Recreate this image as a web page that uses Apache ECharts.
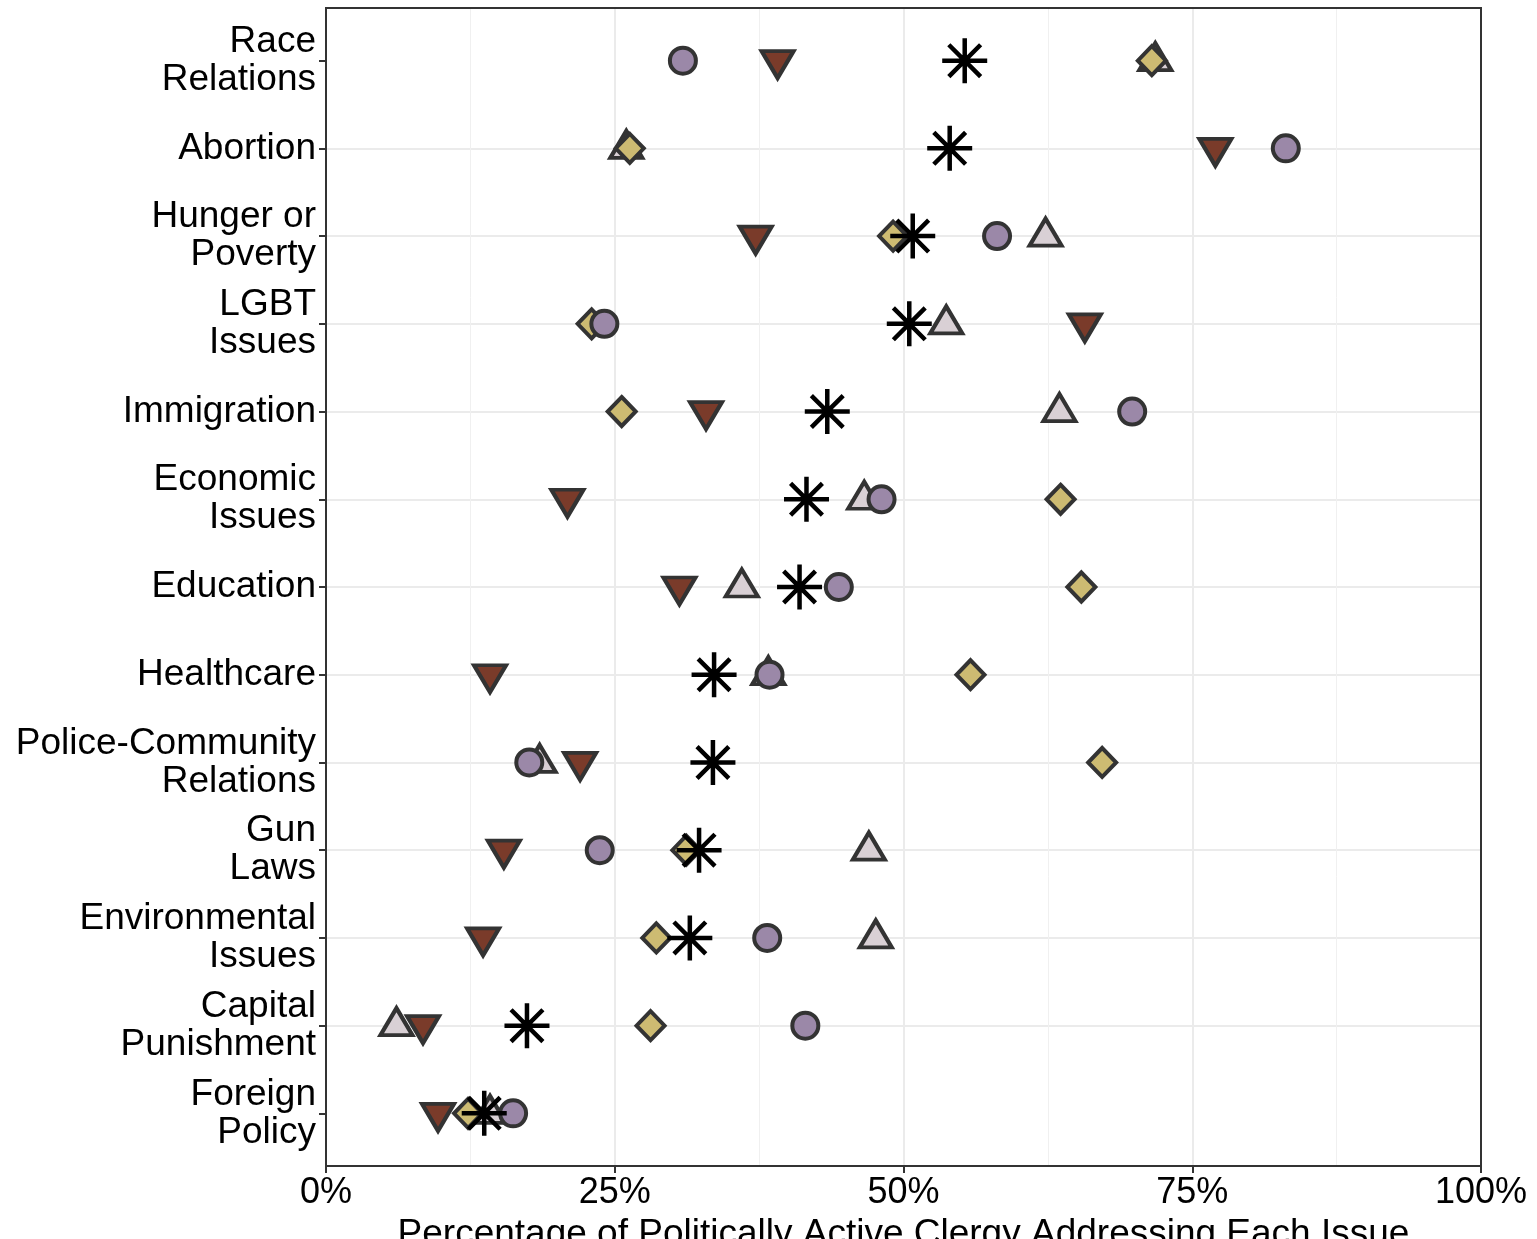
<!DOCTYPE html>
<html>
<head>
<meta charset="utf-8">
<title>Issues addressed by politically active clergy</title>
<script src="https://cdn.jsdelivr.net/npm/echarts@6/dist/echarts.min.js"></script>
<style>
    html, body { margin: 0; padding: 0; background: #fff; }
    #main { width: 1537px; height: 1239px; }
</style>
</head>
<body>
<div id="main"></div>
<script>
// issues, top to bottom
var issues = ['Race\nRelations', 'Abortion', 'Hunger or\nPoverty', 'LGBT\nIssues', 'Immigration',
    'Economic\nIssues', 'Education', 'Healthcare', 'Police-Community\nRelations', 'Gun\nLaws',
    'Environmental\nIssues', 'Capital\nPunishment', 'Foreign\nPolicy'];

// percent of clergy, one array per marker group (same order as issues)
var circleVals   = [30.9, 83.1, 58.1, 24.1, 69.8, 48.1, 44.4, 38.4, 17.6, 23.7, 38.2, 41.5, 16.2];
var downTriVals  = [39.1, 77.0, 37.2, 65.7, 32.9, 20.9, 30.6, 14.2, 22.0, 15.4, 13.6, 8.4, 9.7];
var overallVals  = [55.3, 54.0, 50.8, 50.5, 43.4, 41.6, 41.0, 33.6, 33.5, 32.3, 31.5, 17.4, 13.7];
var upTriVals    = [71.8, 26.0, 62.3, 53.7, 63.5, 46.6, 36.0, 38.3, 18.5, 47.0, 47.6, 6.1, 14.2];
var diamondVals  = [71.5, 26.3, 49.1, 23.0, 25.6, 63.6, 65.4, 55.8, 67.2, 31.2, 28.6, 28.1, 12.3];

var xTicks = [0, 25, 50, 75, 100];
var xTitle = 'Percentage of Politically Active Clergy Addressing Each Issue';

var FONT = '"Liberation Sans", Arial, Helvetica, sans-serif';
var rowIdx = issues.map(function (d, i) { return i + 1; });

function pairs(vals) {
    return vals.map(function (v, i) { return [v, i + 1]; });
}

var asterisk = 'path://M0,-1L0,1M-1,0L1,0M-0.707,-0.707L0.707,0.707M-0.707,0.707L0.707,-0.707';

// plot box
var L = 326, R = 1481, T = 8, B = 1166;

var myChart = echarts.init(document.getElementById('main'));
var option = {
    backgroundColor: '#fff',
    animation: false,
    grid: {
        left: L, right: 1537 - R, top: T, bottom: 1239 - B,
        outerBoundsMode: 'none',
        containLabel: false,
        show: false
    },
    graphic: [{
        type: 'rect', z: 100, silent: true,
        shape: { x: L, y: T, width: R - L, height: B - T },
        style: { fill: null, stroke: '#333', lineWidth: 2 }
    }],
    xAxis: {
        type: 'value',
        min: 0, max: 100, interval: 25,
        name: xTitle,
        nameLocation: 'middle',
        nameGap: 47,
        nameTextStyle: { fontFamily: FONT, fontSize: 37, color: '#000', verticalAlign: 'top' },
        axisLine: { show: false },
        axisTick: { show: true, length: 7, lineStyle: { color: '#333', width: 2 } },
        axisLabel: {
            fontFamily: FONT, fontSize: 36, color: '#000', margin: 9,
            formatter: function (v) { return xTicks.indexOf(v) >= 0 ? v + '%' : ''; }
        },
        splitLine: { show: true, showMinLine: false, showMaxLine: false,
            lineStyle: { color: '#ebebeb', width: 2 } },
        minorTick: { show: false, splitNumber: 2 },
        minorSplitLine: { show: true, lineStyle: { color: '#f0f0f0', width: 1 } }
    },
    yAxis: {
        type: 'value',
        inverse: true,
        min: 0.4, max: 13.6,
        axisLine: { show: false },
        axisTick: { show: true, length: 7, customValues: rowIdx, lineStyle: { color: '#333', width: 2 } },
        axisLabel: {
            customValues: rowIdx,
            fontFamily: FONT, fontSize: 37, color: '#000', margin: 10,
            lineHeight: 38, align: 'right',
            padding: [6, 0, 0, 0],
            formatter: function (v) { return issues[Math.round(v) - 1] || ''; }
        },
        splitLine: { show: true, showMinLine: false, showMaxLine: false,
            lineStyle: { color: '#ebebeb', width: 2 } }
    },
    series: [
        {
            name: 'up triangle', type: 'scatter', z: 2,
            symbol: 'triangle', symbolSize: [32, 27], symbolOffset: [0, -4],
            itemStyle: { color: '#d9d0d5', borderColor: '#333', borderWidth: 4, opacity: 1 },
            data: pairs(upTriVals)
        },
        {
            name: 'down triangle', type: 'scatter', z: 3,
            symbol: 'triangle', symbolRotate: 180, symbolSize: [32, 27], symbolOffset: [0, 4],
            itemStyle: { color: '#7a3b2a', borderColor: '#333', borderWidth: 4, opacity: 1 },
            data: pairs(downTriVals)
        },
        {
            name: 'diamond', type: 'scatter', z: 4,
            symbol: 'diamond', symbolSize: [28, 29],
            itemStyle: { color: '#cdbb72', borderColor: '#333', borderWidth: 4, opacity: 1 },
            data: pairs(diamondVals)
        },
        {
            name: 'circle', type: 'scatter', z: 5,
            symbol: 'circle', symbolSize: 26,
            itemStyle: { color: '#9b88a8', borderColor: '#333', borderWidth: 4, opacity: 1 },
            data: pairs(circleVals)
        },
        {
            name: 'overall', type: 'scatter', z: 6,
            symbol: asterisk, symbolSize: 45,
            itemStyle: { color: 'rgba(0,0,0,0)', borderColor: '#000', borderWidth: 4.5, opacity: 1 },
            data: pairs(overallVals)
        }
    ]
};
myChart.setOption(option);
</script>
</body>
</html>
